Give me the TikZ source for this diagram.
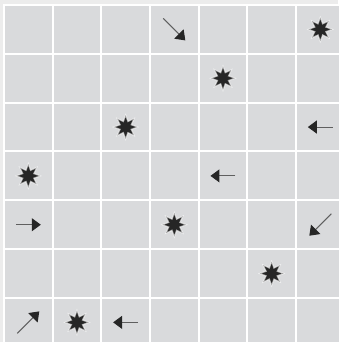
\documentclass[tikz,border=0pt]{standalone}
\usetikzlibrary{arrows.meta,shapes.geometric}
\definecolor{cellgray}{RGB}{217,218,220}
\definecolor{margingray}{RGB}{236,236,236}
\definecolor{ink}{RGB}{38,38,38}
\definecolor{shaftgray}{RGB}{95,95,95}
\begin{document}
\begin{tikzpicture}[x=1pt,y=-1pt,
  starmark/.style={star,star points=8,star point ratio=2.0,minimum size=24pt,inner sep=0pt,
    fill=ink,draw=white,draw opacity=0.6,line width=1.2pt},
  arr/.style={draw=shaftgray,line width=1pt,-{Triangle[length=9pt,width=13pt,color=ink]}}]
\useasboundingbox (0,0) rectangle (338,342);
\fill[margingray] (0,0) rectangle (338,342);
\fill[white] (3.2,4.2) rectangle (338,342);
\foreach \i in {0,...,6}{
  \foreach \j in {0,...,6}{
    \fill[cellgray] ({5+48.67*\i},{6+48.83*\j}) rectangle ++(46.7,46.8);
    \coordinate (c\i\j) at ({28.3+48.67*\i},{29.4+48.83*\j});
  }
}
% stars (col,row)
\node[starmark] (s1) at (c60) {};
\node[starmark] (s2) at (c41) {};
\node[starmark] (s3) at (c22) {};
\node[starmark] (s4) at (c03) {};
\node[starmark] (s5) at (c34) {};
\node[starmark] (s6) at (c55) {};
\node[starmark] (s7) at (c16) {};
% arrows
\draw[arr] ([shift={(-11,-11)}]c30) -- ([shift={(11,11)}]c30);
\draw[arr] ([shift={(12.5,0)}]c62) -- ([shift={(-12.5,0)}]c62);
\draw[arr] ([shift={(12.5,0)}]c43) -- ([shift={(-12.5,0)}]c43);
\draw[arr] ([shift={(-12.5,0)}]c04) -- ([shift={(12.5,0)}]c04);
\draw[arr] ([shift={(11,-11)}]c64) -- ([shift={(-11,11)}]c64);
\draw[arr] ([shift={(-11,11)}]c06) -- ([shift={(11,-11)}]c06);
\draw[arr] ([shift={(12.5,0)}]c26) -- ([shift={(-12.5,0)}]c26);
\end{tikzpicture}
\end{document}
